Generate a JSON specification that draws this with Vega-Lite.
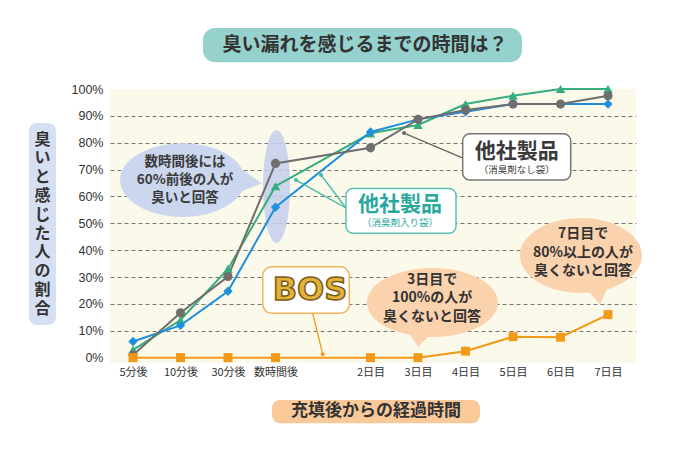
{
  "$schema": "https://vega.github.io/schema/vega-lite/v6.json",
  "width": 526,
  "height": 274,
  "autosize": "none",
  "padding": {"left": 110, "top": 89, "right": 59, "bottom": 97},
  "background": "white",
  "config": {
    "view": {"fill": "#fbf9ea", "stroke": null},
    "font": "Noto Sans CJK JP"
  },
  "datasets": {
    "series": [
      {"s": "他社製品（消臭剤入り袋）A", "t": 0, "v": 0.029},
      {"s": "他社製品（消臭剤入り袋）A", "t": 1, "v": 0.14},
      {"s": "他社製品（消臭剤入り袋）A", "t": 2, "v": 0.33},
      {"s": "他社製品（消臭剤入り袋）A", "t": 3, "v": 0.638},
      {"s": "他社製品（消臭剤入り袋）A", "t": 5, "v": 0.835},
      {"s": "他社製品（消臭剤入り袋）A", "t": 6, "v": 0.866},
      {"s": "他社製品（消臭剤入り袋）A", "t": 7, "v": 0.944},
      {"s": "他社製品（消臭剤入り袋）A", "t": 8, "v": 0.975},
      {"s": "他社製品（消臭剤入り袋）A", "t": 9, "v": 1.0},
      {"s": "他社製品（消臭剤入り袋）A", "t": 10, "v": 1.0},
      {"s": "他社製品（消臭剤入り袋）B", "t": 0, "v": 0.06},
      {"s": "他社製品（消臭剤入り袋）B", "t": 1, "v": 0.12},
      {"s": "他社製品（消臭剤入り袋）B", "t": 2, "v": 0.247},
      {"s": "他社製品（消臭剤入り袋）B", "t": 3, "v": 0.56},
      {"s": "他社製品（消臭剤入り袋）B", "t": 5, "v": 0.84},
      {"s": "他社製品（消臭剤入り袋）B", "t": 6, "v": 0.887},
      {"s": "他社製品（消臭剤入り袋）B", "t": 7, "v": 0.915},
      {"s": "他社製品（消臭剤入り袋）B", "t": 8, "v": 0.944},
      {"s": "他社製品（消臭剤入り袋）B", "t": 9, "v": 0.944},
      {"s": "他社製品（消臭剤入り袋）B", "t": 10, "v": 0.944},
      {"s": "他社製品（消臭剤なし袋）", "t": 0, "v": 0.01},
      {"s": "他社製品（消臭剤なし袋）", "t": 1, "v": 0.167},
      {"s": "他社製品（消臭剤なし袋）", "t": 2, "v": 0.302},
      {"s": "他社製品（消臭剤なし袋）", "t": 3, "v": 0.723},
      {"s": "他社製品（消臭剤なし袋）", "t": 5, "v": 0.781},
      {"s": "他社製品（消臭剤なし袋）", "t": 6, "v": 0.887},
      {"s": "他社製品（消臭剤なし袋）", "t": 7, "v": 0.922},
      {"s": "他社製品（消臭剤なし袋）", "t": 8, "v": 0.944},
      {"s": "他社製品（消臭剤なし袋）", "t": 9, "v": 0.944},
      {"s": "他社製品（消臭剤なし袋）", "t": 10, "v": 0.975},
      {"s": "BOS", "t": 0, "v": 0},
      {"s": "BOS", "t": 1, "v": 0},
      {"s": "BOS", "t": 2, "v": 0},
      {"s": "BOS", "t": 3, "v": 0},
      {"s": "BOS", "t": 5, "v": 0},
      {"s": "BOS", "t": 6, "v": 0},
      {"s": "BOS", "t": 7, "v": 0.024},
      {"s": "BOS", "t": 8, "v": 0.078},
      {"s": "BOS", "t": 9, "v": 0.076},
      {"s": "BOS", "t": 10, "v": 0.16}
    ]
  },
  "layer": [
    {
      "data": {"name": "series"},
      "mark": {"type": "line", "strokeWidth": 2, "clip": false, "opacity": 0},
      "encoding": {
        "x": {
          "field": "t", "type": "quantitative",
          "scale": {"domain": [-0.4842, 10.589], "nice": false, "zero": false},
          "axis": {
            "title": null, "values": [0, 1, 2, 3, 5, 6, 7, 8, 9, 10],
            "labelExpr": "['5分後','10分後','30分後','数時間後','','2日目','3日目','4日目','5日目','6日目','7日目'][datum.value]",
            "domain": false, "ticks": false, "grid": false, "labelOverlap": false,
            "labelPadding": 3, "labelFontSize": 11, "labelColor": "#333333",
            "labelFont": "Noto Sans CJK JP"
          }
        },
        "y": {
          "field": "v", "type": "quantitative",
          "scale": {"domain": [-0.02, 1.0], "nice": false, "zero": false},
          "axis": {
            "title": null,
            "values": [0, 0.1, 0.2, 0.3, 0.4, 0.5, 0.6, 0.7, 0.8, 0.9, 1],
            "tickCount": 11, "labelOverlap": false,
            "labelExpr": "round(datum.value * 100) + '%'",
            "domain": false, "ticks": false,
            "grid": true, "gridDash": [4, 3], "gridColor": "#777777", "gridWidth": 1,
            "gridOpacity": {"condition": {"test": "datum.value < 0.05 || datum.value > 0.95", "value": 0}, "value": 1},
            "labelPadding": 7, "labelFontSize": 12.5, "labelColor": "#333333",
            "labelFont": "Liberation Sans"
          }
        },
        "color": {
          "field": "s", "type": "nominal", "legend": null,
          "scale": {
            "domain": ["他社製品（消臭剤入り袋）A", "他社製品（消臭剤入り袋）B", "他社製品（消臭剤なし袋）", "BOS"],
            "range": ["#35ad7e", "#1f8fdc", "#6e6e6e", "#f29a17"]
          }
        }
      }
    },
    {
      "data": {"values": [{"k": "highlight"}]},
      "mark": {"type": "point", "filled": true, "opacity": 0.85, "clip": false, "color": "#c3cfeb",
        "shape": "M -0.239 0 C -0.239 -0.552 -0.132 -1 0 -1 C 0.132 -1 0.239 -0.552 0.239 0 C 0.239 0.552 0.132 1 0 1 C -0.132 1 -0.239 0.552 -0.239 0 Z",
        "size": 12769},
      "encoding": {"x": {"datum": 3.021, "type": "quantitative"}, "y": {"datum": 0.637, "type": "quantitative"}}
    },
    {
      "data": {"values": [{"k": "callout"}]},
      "mark": {"type": "point", "filled": true, "opacity": 1, "clip": false, "color": "#cbd7ef",
        "shape": "M -1 0 C -1 -0.326 -0.552 -0.59 0 -0.59 C 0.552 -0.59 1 -0.326 1 0 C 1 0.326 0.552 0.59 0 0.59 C -0.552 0.59 -1 0.326 -1 0 Z M 0.9 -0.2 L 1.27 0.05 L 0.9 0.2 Z",
        "size": 15625},
      "encoding": {"x": {"datum": 1.042, "type": "quantitative"}, "y": {"datum": 0.661, "type": "quantitative"}}
    },
    {
      "data": {"values": [{"k": "callout"}]},
      "mark": {"type": "point", "filled": true, "opacity": 1, "clip": false, "color": "#fad2ad",
        "shape": "M -1 0 C -1 -0.291 -0.552 -0.527 0 -0.527 C 0.552 -0.527 1 -0.291 1 0 C 1 0.291 0.552 0.527 0 0.527 C -0.552 0.527 -1 0.291 -1 0 Z M -0.05 0.5 L -0.22 0.68 L -0.35 0.47 Z",
        "size": 17161},
      "encoding": {"x": {"datum": 6.305, "type": "quantitative"}, "y": {"datum": 0.205, "type": "quantitative"}}
    },
    {
      "data": {"values": [{"k": "callout"}]},
      "mark": {"type": "point", "filled": true, "opacity": 1, "clip": false, "color": "#fad2ad",
        "shape": "M -1 0 C -1 -0.339 -0.552 -0.615 0 -0.615 C 0.552 -0.615 1 -0.339 1 0 C 1 0.339 0.552 0.615 0 0.615 C -0.552 0.615 -1 0.339 -1 0 Z M 0.45 0.5 L 0.31 0.8 L 0.12 0.58 Z",
        "size": 14884},
      "encoding": {"x": {"datum": 9.432, "type": "quantitative"}, "y": {"datum": 0.38, "type": "quantitative"}}
    },
    {
      "data": {"name": "series"},
      "mark": {"type": "line", "strokeWidth": 2, "clip": false},
      "encoding": {
        "x": {"field": "t", "type": "quantitative"},
        "y": {"field": "v", "type": "quantitative"},
        "color": {"field": "s", "type": "nominal", "legend": null}
      }
    },
    {
      "data": {"name": "series"},
      "mark": {"type": "point", "filled": true, "opacity": 1, "clip": false},
      "encoding": {
        "x": {"field": "t", "type": "quantitative"},
        "y": {"field": "v", "type": "quantitative"},
        "color": {"field": "s", "type": "nominal", "legend": null},
        "shape": {"field": "s", "type": "nominal", "legend": null,
          "scale": {"domain": ["他社製品（消臭剤入り袋）A", "他社製品（消臭剤入り袋）B", "他社製品（消臭剤なし袋）", "BOS"],
                    "range": ["triangle-up", "diamond", "circle", "square"]}},
        "size": {"field": "s", "type": "nominal", "legend": null,
          "scale": {"domain": ["他社製品（消臭剤入り袋）A", "他社製品（消臭剤入り袋）B", "他社製品（消臭剤なし袋）", "BOS"],
                    "range": [90, 80, 70, 110]}}
      }
    },
    {
      "data": {"values": [{"k": "p"}]},
      "mark": {"type": "rule", "color": "#666666", "strokeWidth": 1.3, "clip": false},
      "encoding": {"x": {"datum": 5.705, "type": "quantitative"}, "y": {"datum": 0.836, "type": "quantitative"},
                   "x2": {"datum": 6.947}, "y2": {"datum": 0.743}}
    },
    {
      "data": {"values": [{"k": "p"}]},
      "mark": {"type": "rule", "color": "#3fb8aa", "strokeWidth": 1.3, "clip": false},
      "encoding": {"x": {"datum": 3.432, "type": "quantitative"}, "y": {"datum": 0.661, "type": "quantitative"},
                   "x2": {"datum": 4.484}, "y2": {"datum": 0.557}}
    },
    {
      "data": {"values": [{"k": "p"}]},
      "mark": {"type": "rule", "color": "#3fb8aa", "strokeWidth": 1.3, "clip": false},
      "encoding": {"x": {"datum": 3.958, "type": "quantitative"}, "y": {"datum": 0.68, "type": "quantitative"},
                   "x2": {"datum": 4.484}, "y2": {"datum": 0.557}}
    },
    {
      "data": {"values": [{"k": "p"}]},
      "mark": {"type": "rule", "color": "#f29a17", "strokeWidth": 1.3, "clip": false},
      "encoding": {"x": {"datum": 3.783, "type": "quantitative"}, "y": {"datum": 0.165, "type": "quantitative"},
                   "x2": {"datum": 3.994}, "y2": {"datum": 0.013}}
    },
    {
      "data": {"values": [{"k": "dot"}]},
      "mark": {"type": "point", "filled": true, "opacity": 1, "size": 16, "color": "#666666", "clip": false},
      "encoding": {"x": {"datum": 5.705, "type": "quantitative"}, "y": {"datum": 0.836, "type": "quantitative"}}
    },
    {
      "data": {"values": [{"k": "dot"}]},
      "mark": {"type": "point", "filled": true, "opacity": 1, "size": 16, "color": "#3fb8aa", "clip": false},
      "encoding": {"x": {"datum": 3.432, "type": "quantitative"}, "y": {"datum": 0.661, "type": "quantitative"}}
    },
    {
      "data": {"values": [{"k": "dot"}]},
      "mark": {"type": "point", "filled": true, "opacity": 1, "size": 16, "color": "#3fb8aa", "clip": false},
      "encoding": {"x": {"datum": 3.958, "type": "quantitative"}, "y": {"datum": 0.68, "type": "quantitative"}}
    },
    {
      "data": {"values": [{"k": "dot"}]},
      "mark": {"type": "point", "filled": true, "opacity": 1, "size": 16, "color": "#f29a17", "clip": false},
      "encoding": {"x": {"datum": 3.994, "type": "quantitative"}, "y": {"datum": 0.013, "type": "quantitative"}}
    },
    {
      "data": {"values": [{"k": "box"}]},
      "mark": {"type": "rect", "fill": "#95d2ce", "cornerRadius": 12, "clip": false},
      "encoding": {"x": {"datum": 1.474, "type": "quantitative"}, "x2": {"datum": 8.189},
                   "y": {"datum": 1.227, "type": "quantitative"}, "y2": {"datum": 1.1}}
    },
    {
      "data": {"values": [{"k": "box"}]},
      "mark": {"type": "rect", "fill": "#d6e0f2", "cornerRadius": 8, "clip": false},
      "encoding": {"x": {"datum": -2.189, "type": "quantitative"}, "x2": {"datum": -1.621},
                   "y": {"datum": 0.873, "type": "quantitative"}, "y2": {"datum": 0.121}}
    },
    {
      "data": {"values": [{"k": "box"}]},
      "mark": {"type": "rect", "fill": "#fac99a", "cornerRadius": 8, "clip": false},
      "encoding": {"x": {"datum": 2.926, "type": "quantitative"}, "x2": {"datum": 7.305},
                   "y": {"datum": -0.158, "type": "quantitative"}, "y2": {"datum": -0.244}}
    },
    {
      "data": {"values": [{"k": "box"}]},
      "mark": {"type": "rect", "fill": "white", "stroke": "#777777", "strokeWidth": 1.5, "cornerRadius": 7, "clip": false},
      "encoding": {"x": {"datum": 6.941, "type": "quantitative"}, "x2": {"datum": 9.215},
                   "y": {"datum": 0.833, "type": "quantitative"}, "y2": {"datum": 0.661}}
    },
    {
      "data": {"values": [{"k": "box"}]},
      "mark": {"type": "rect", "fill": "white", "stroke": "#5cc2b6", "strokeWidth": 1.5, "cornerRadius": 7, "clip": false},
      "encoding": {"x": {"datum": 4.484, "type": "quantitative"}, "x2": {"datum": 6.8},
                   "y": {"datum": 0.63, "type": "quantitative"}, "y2": {"datum": 0.463}}
    },
    {
      "data": {"values": [{"k": "box"}]},
      "mark": {"type": "rect", "fill": "white", "stroke": "#f5b15a", "strokeWidth": 1.5, "cornerRadius": 9, "clip": false},
      "encoding": {"x": {"datum": 2.731, "type": "quantitative"}, "x2": {"datum": 4.554},
                   "y": {"datum": 0.338, "type": "quantitative"}, "y2": {"datum": 0.165}}
    },
    {
      "data": {"values": [{"k": "text"}]},
      "mark": {"type": "text", "text": "臭い漏れを感じるまでの時間は？", "fontSize": 19, "fontWeight": "bold", "color": "#333333", "align": "center", "baseline": "middle", "clip": false},
      "encoding": {"x": {"datum": 4.884, "type": "quantitative"}, "y": {"datum": 1.164, "type": "quantitative"}}
    },
    {
      "data": {"values": [{"k": "text"}]},
      "mark": {"type": "text", "text": ["臭", "い", "と", "感", "じ", "た", "人", "の", "割", "合"], "lineHeight": 18.8, "fontSize": 16, "fontWeight": "bold", "color": "#333333", "align": "center", "baseline": "middle", "clip": false},
      "encoding": {"x": {"datum": -1.905, "type": "quantitative"}, "y": {"datum": 0.812, "type": "quantitative"}}
    },
    {
      "data": {"values": [{"k": "text"}]},
      "mark": {"type": "text", "text": "充填後からの経過時間", "fontSize": 17, "fontWeight": "bold", "color": "#333333", "align": "center", "baseline": "middle", "clip": false},
      "encoding": {"x": {"datum": 5.116, "type": "quantitative"}, "y": {"datum": -0.199, "type": "quantitative"}}
    },
    {
      "data": {"values": [{"k": "text"}]},
      "mark": {"type": "text", "text": ["数時間後には", "60%前後の人が", "臭いと回答"], "lineHeight": 18.3, "fontSize": 13.5, "fontWeight": "bold", "color": "#3a3a3a", "align": "center", "baseline": "middle", "clip": false},
      "encoding": {"x": {"datum": 1.095, "type": "quantitative"}, "y": {"datum": 0.729, "type": "quantitative"}}
    },
    {
      "data": {"values": [{"k": "text"}]},
      "mark": {"type": "text", "text": ["3日目で", "100%の人が", "臭くないと回答"], "lineHeight": 18.5, "fontSize": 14, "fontWeight": "bold", "color": "#333333", "align": "center", "baseline": "middle", "clip": false},
      "encoding": {"x": {"datum": 6.295, "type": "quantitative"}, "y": {"datum": 0.289, "type": "quantitative"}}
    },
    {
      "data": {"values": [{"k": "text"}]},
      "mark": {"type": "text", "text": ["7日目で", "80%以上の人が", "臭くないと回答"], "lineHeight": 18.5, "fontSize": 14, "fontWeight": "bold", "color": "#333333", "align": "center", "baseline": "middle", "clip": false},
      "encoding": {"x": {"datum": 9.474, "type": "quantitative"}, "y": {"datum": 0.46, "type": "quantitative"}}
    },
    {
      "data": {"values": [{"k": "text"}]},
      "mark": {"type": "text", "text": "他社製品", "fontSize": 21, "fontWeight": "bold", "color": "#3a3a3a", "align": "center", "baseline": "middle", "clip": false},
      "encoding": {"x": {"datum": 8.078, "type": "quantitative"}, "y": {"datum": 0.766, "type": "quantitative"}}
    },
    {
      "data": {"values": [{"k": "text"}]},
      "mark": {"type": "text", "text": "（消臭剤なし袋）", "fontSize": 9.5, "color": "#3a3a3a", "align": "center", "baseline": "middle", "clip": false},
      "encoding": {"x": {"datum": 8.078, "type": "quantitative"}, "y": {"datum": 0.699, "type": "quantitative"}}
    },
    {
      "data": {"values": [{"k": "text"}]},
      "mark": {"type": "text", "text": "他社製品", "fontSize": 21, "fontWeight": "bold", "color": "#29a99c", "align": "center", "baseline": "middle", "clip": false},
      "encoding": {"x": {"datum": 5.621, "type": "quantitative"}, "y": {"datum": 0.568, "type": "quantitative"}}
    },
    {
      "data": {"values": [{"k": "text"}]},
      "mark": {"type": "text", "text": "（消臭剤入り袋）", "fontSize": 9.5, "color": "#29a99c", "align": "center", "baseline": "middle", "clip": false},
      "encoding": {"x": {"datum": 5.621, "type": "quantitative"}, "y": {"datum": 0.502, "type": "quantitative"}}
    },
    {
      "data": {"values": [{"k": "text"}]},
      "mark": {"type": "text", "text": "BOS", "fontSize": 32, "fontWeight": "bold", "font": "DejaVu Sans", "fill": "#e2b23e", "stroke": "#7d5a12", "strokeWidth": 1.5, "align": "center", "baseline": "middle", "clip": false},
      "encoding": {"x": {"datum": 3.726, "type": "quantitative"}, "y": {"datum": 0.252, "type": "quantitative"}}
    }
  ]
}
